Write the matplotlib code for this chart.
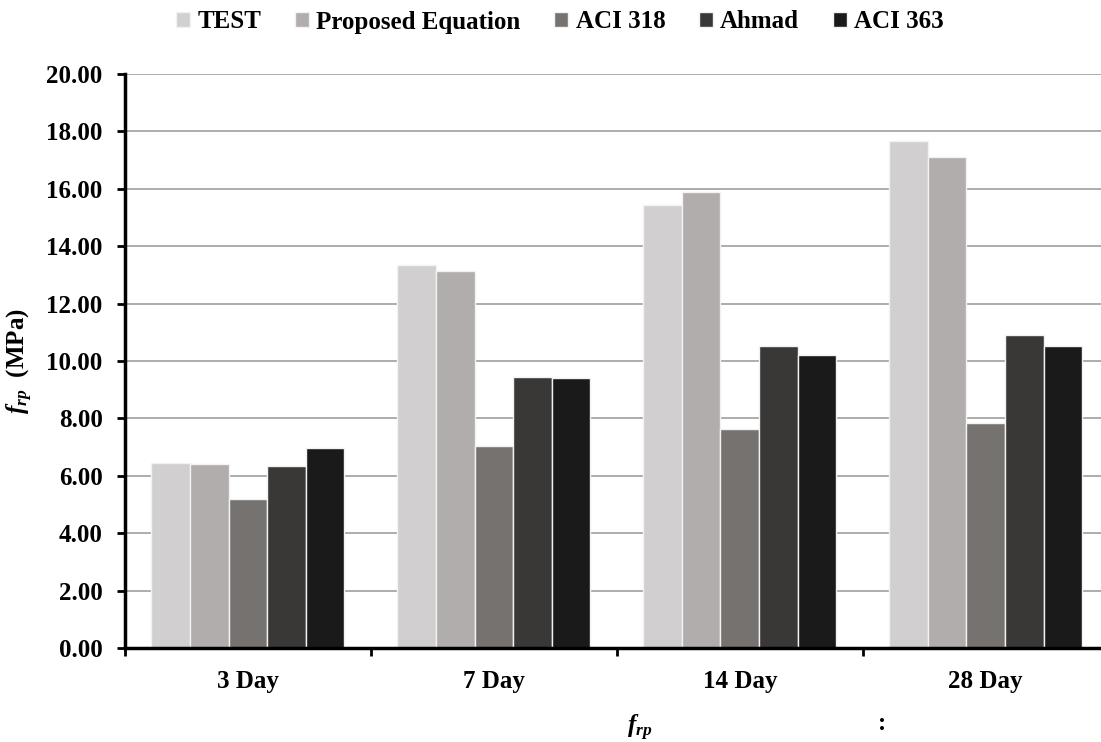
import matplotlib
matplotlib.use('Agg')
import matplotlib.pyplot as plt
import numpy as np

plt.rcParams['font.family'] = ['Liberation Serif', 'DejaVu Serif']
plt.rcParams['font.weight'] = 'bold'
plt.rcParams['mathtext.fontset'] = 'custom'
plt.rcParams['mathtext.it'] = 'Liberation Serif:italic:bold'
plt.rcParams['mathtext.rm'] = 'Liberation Serif:bold'

# 재령별 휨강도 (MPa)
ages = ['3 Day', '7 Day', '14 Day', '28 Day']
series = ['TEST', 'Proposed Equation', 'ACI 318', 'Ahmad', 'ACI 363']
test = [6.45, 13.33, 15.45, 17.68]
proposed = [6.42, 13.12, 15.90, 17.10]
aci318 = [5.18, 7.03, 7.62, 7.84]
ahmad = [6.35, 9.45, 10.52, 10.92]
aci363 = [6.98, 9.40, 10.20, 10.52]
colors = ['#d1cfd0', '#b0adac', '#767270', '#3a3836', '#1a1a1a']

values = [test, proposed, aci318, ahmad, aci363]

fig = plt.figure(figsize=(11.01, 7.42), dpi=100)
ax = fig.add_axes([0.1135, 0.1267, 0.8935, 0.7736])

x = np.arange(len(ages))
step = 0.157
for i, (name, vals) in enumerate(zip(series, values)):
    ax.bar(x + (i - 2) * step, vals, width=step, color=colors[i],
           edgecolor='#f2f2f2', linewidth=1.0, label=name, zorder=3)

ax.set_xlim(-0.5, 3.5)
ax.set_ylim(0, 20)
ax.set_yticks(np.arange(0, 20.1, 2))
ax.set_yticklabels(['%.2f' % v for v in np.arange(0, 20.1, 2)])
ax.yaxis.grid(True, color='#a6a6a6', linewidth=1.3, zorder=0)
ax.set_axisbelow(True)

ax.set_xticks(x)
ax.set_xticklabels(ages)
ax.set_xticks(np.arange(-0.5, 3.6, 1), minor=True)
ax.tick_params(axis='x', which='major', length=0, pad=16, labelsize=18)
ax.tick_params(axis='x', which='minor', length=6, width=2, direction='out')
ax.tick_params(axis='y', length=6, width=2, pad=10, labelsize=18)

for s in ['top', 'right']:
    ax.spines[s].set_visible(False)
for s in ['left', 'bottom']:
    ax.spines[s].set_linewidth(2.5)
    ax.spines[s].set_zorder(5)

ax.set_ylabel(r'$f_{rp}$  (MPa)', fontsize=18, fontweight='bold', labelpad=8)

fig.legend(loc='center', bbox_to_anchor=(560 / 1101, 1 - 22 / 742), ncol=5,
           frameon=False, fontsize=18, handlelength=0.55, handleheight=0.55,
           handletextpad=0.3, columnspacing=1.35)

fig.text(640 / 1101, 1 - 728 / 742, r'$f_{rp}$', fontsize=18, ha='center', va='center')
fig.text(882 / 1101, 1 - 724 / 742, ':', fontsize=18, ha='center', va='center')

fig.savefig('out.png', dpi=100)
